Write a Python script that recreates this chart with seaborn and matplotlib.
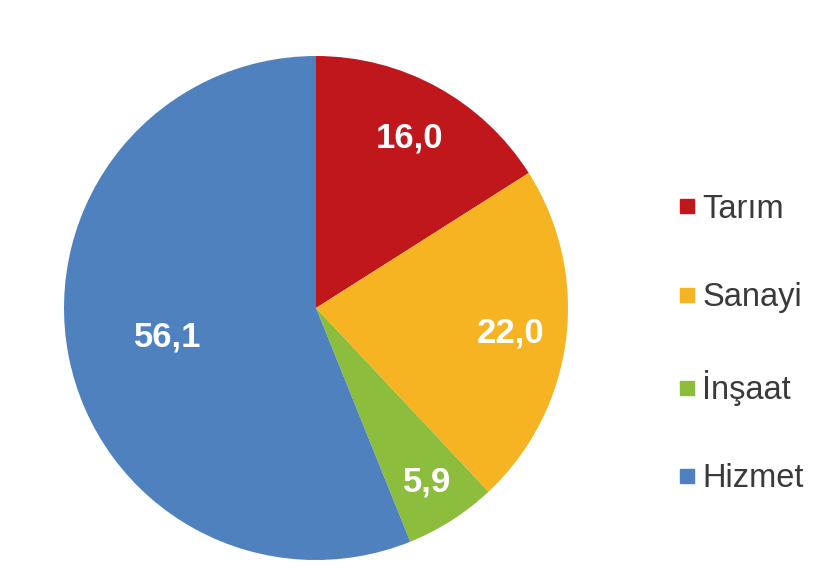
import matplotlib.pyplot as plt
import numpy as np
import seaborn as sns
from matplotlib.lines import Line2D

sectors = ["Tarım", "Sanayi", "İnşaat", "Hizmet"]
shares = [16.0, 22.0, 5.9, 56.1]
share_labels = ["16,0", "22,0", "5,9", "56,1"]
colors = ["#C0171C", "#F6B422", "#8CBD3C", "#4F81BF"]

sns.set_theme(style="white")
plt.rcParams["font.family"] = ["Liberation Sans", "DejaVu Sans"]

fig = plt.figure(figsize=(8.24, 5.88), dpi=100)
ax = fig.add_axes([64 / 824, 28 / 588, 504 / 824, 504 / 588])

wedges, _ = ax.pie(
    shares,
    colors=colors,
    startangle=90,
    counterclock=False,
    radius=1.0,
    wedgeprops={"linewidth": 0},
)
ax.set_xlim(-1, 1)
ax.set_ylim(-1, 1)
ax.set_aspect("equal")
ax.axis("off")

# label distance from centre, per slice
label_r = [0.77, 0.78, 0.82, 0.60]
for w, txt, r in zip(wedges, share_labels, label_r):
    ang = np.deg2rad((w.theta1 + w.theta2) / 2)
    ax.text(
        r * np.cos(ang),
        r * np.sin(ang),
        txt,
        ha="center",
        va="center",
        color="white",
        fontsize=25,
        fontweight="bold",
    )

handles = [
    Line2D([], [], marker="s", linestyle="", markersize=10, color=c) for c in colors
]
fig.legend(
    handles,
    sectors,
    loc="center left",
    bbox_to_anchor=(663 / 824, 1 - 344 / 588),
    frameon=False,
    fontsize=23.5,
    labelcolor="#3a3a3a",
    labelspacing=1.75,
    handlelength=0.5,
    handletextpad=0.2,
    borderpad=0,
)

fig.savefig("out.png", dpi=100, facecolor="white")
